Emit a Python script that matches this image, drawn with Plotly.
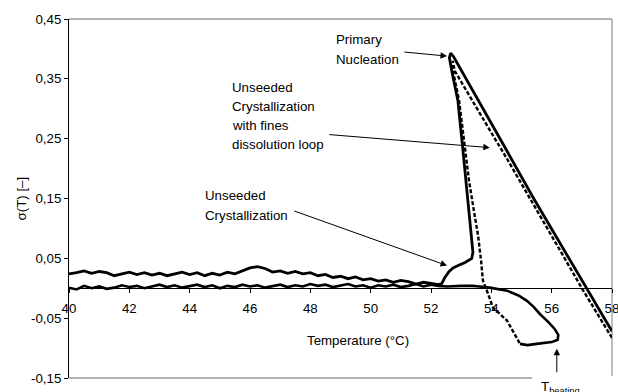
import plotly.graph_objects as go

# ---------------- data ----------------
# Series 1: unseeded crystallization (solid)
s1_T = [58.0, 57.5, 57.17, 56.5, 56.0, 55.38, 54.5, 54.0, 53.5, 53.0, 52.75, 52.65,
        52.61, 52.7, 52.89, 53.06, 53.22, 53.32, 53.39, 53.35, 53.13, 52.9, 52.73, 52.6,
        52.46, 52.36, 52.25,
        52.0, 51.75, 51.5, 51.25, 51.0, 50.75, 50.5, 50.25, 50.0, 49.75, 49.5, 49.25,
        49.0, 48.75, 48.5, 48.25, 48.0, 47.75, 47.5, 47.25, 47.0, 46.75, 46.5, 46.25,
        46.0, 45.75, 45.5, 45.25, 45.0, 44.75, 44.5, 44.25, 44.0, 43.75, 43.5, 43.25,
        43.0, 42.75, 42.5, 42.25, 42.0, 41.75, 41.5, 41.25, 41.0, 40.75, 40.5, 40.25, 40.0]
s1_sigma = [-0.072, -0.029, 0.0, 0.057, 0.099, 0.152, 0.231, 0.276, 0.320, 0.366, 0.387, 0.393,
            0.385, 0.360, 0.314, 0.230, 0.147, 0.096, 0.060, 0.050, 0.043, 0.038, 0.034, 0.028,
            0.018, 0.008, 0.006,
            0.008, 0.010, 0.007, 0.011, 0.013, 0.010, 0.014, 0.012, 0.016, 0.014, 0.019, 0.016,
            0.020, 0.018, 0.023, 0.021, 0.026, 0.024, 0.028, 0.025, 0.029, 0.027, 0.033, 0.036,
            0.034, 0.029, 0.024, 0.027, 0.022, 0.025, 0.021, 0.026, 0.023, 0.027, 0.024, 0.021,
            0.025, 0.022, 0.026, 0.023, 0.027, 0.024, 0.021, 0.026, 0.028, 0.025, 0.029, 0.026, 0.024]

# Series 2: unseeded crystallization with fines dissolution loop
# fast part (drawn dashed): cooling ramp, primary nucleation, drop, heating into loop
s2a_T = [58.0, 57.5, 57.0, 56.5, 56.0, 55.28, 54.5, 54.0, 53.5, 53.0, 52.79, 52.72,
         52.70, 52.93, 53.13, 53.26, 53.42, 53.56, 53.66, 53.72, 53.89, 54.05, 54.52, 54.95]
s2a_sigma = [-0.083, -0.042, 0.0, 0.044, 0.088, 0.151, 0.218, 0.260, 0.302, 0.345, 0.363, 0.380,
             0.370, 0.314, 0.230, 0.180, 0.130, 0.088, 0.046, 0.013, -0.009, -0.032, -0.054, -0.093]
# slow part (dense): loop bottom, T_heating, cooling back, baseline
s2b_T = [54.95, 55.2, 55.5, 55.8, 56.0, 56.2, 56.22, 56.1, 55.9, 55.61, 55.4, 55.18, 54.9,
         54.52, 54.2, 53.95, 53.6, 53.39, 53.0, 52.53,
         52.25, 52.0, 51.75, 51.5, 51.25, 51.0, 50.75, 50.5, 50.25, 50.0, 49.75, 49.5, 49.25,
         49.0, 48.75, 48.5, 48.25, 48.0, 47.75, 47.5, 47.25, 47.0, 46.75, 46.5, 46.25,
         46.0, 45.75, 45.5, 45.25, 45.0, 44.75, 44.5, 44.25, 44.0, 43.75, 43.5, 43.25,
         43.0, 42.75, 42.5, 42.25, 42.0, 41.75, 41.5, 41.25, 41.0, 40.75, 40.5, 40.25, 40.0]
s2b_sigma = [-0.093, -0.095, -0.093, -0.091, -0.090, -0.086, -0.078, -0.068, -0.057, -0.043, -0.031, -0.021, -0.012,
             -0.004, -0.001, 0.001, 0.003, 0.004, 0.004, 0.003,
             0.004, 0.006, 0.003, 0.007, 0.004, 0.002, 0.006, 0.003, 0.005, 0.001, 0.005, 0.003, 0.007,
             0.004, 0.002, 0.006, 0.004, 0.007, 0.003, 0.005, 0.002, 0.006, 0.004, 0.001, 0.005,
             0.003, 0.006, 0.002, 0.004, 0.000, 0.005, 0.002, 0.006, 0.003, 0.001, 0.005, 0.002,
             0.006, 0.003, 0.000, 0.004, 0.002, 0.005, 0.001, -0.001, 0.003, 0.000, 0.004, -0.002, 0.001]

x_ticks = [40, 42, 44, 46, 48, 50, 52, 54, 56, 58]
y_ticks = [-0.15, -0.05, 0.05, 0.15, 0.25, 0.35, 0.45]
y_ticktext = ["-0,15", "-0,05", "0,05", "0,15", "0,25", "0,35", "0,45"]

FONT = "Liberation Sans, Arial, sans-serif"
FS = 13.3

fig = go.Figure()
fig.add_trace(go.Scatter(x=s2b_T, y=s2b_sigma, mode="lines",
                         line=dict(color="black", width=2.6), showlegend=False))
fig.add_trace(go.Scatter(x=s2a_T, y=s2a_sigma, mode="lines",
                         line=dict(color="black", width=2.4, dash="4px,2px"), showlegend=False))
fig.add_trace(go.Scatter(x=s1_T, y=s1_sigma, mode="lines",
                         line=dict(color="black", width=2.8), showlegend=False))

fig.update_layout(
    width=618, height=392,
    margin=dict(l=69, r=6, t=19, b=14, autoexpand=False),
    paper_bgcolor="white", plot_bgcolor="white",
    font=dict(family=FONT, size=FS, color="black"),
    xaxis=dict(range=[40, 58], anchor="free", position=0.25, automargin=False,
               showline=True, linecolor="black", linewidth=1,
               ticks="outside", ticklen=4, tickcolor="black", tickwidth=1,
               tickvals=x_ticks, ticktext=[str(v) for v in x_ticks],
               showgrid=False, zeroline=False, ticklabelstandoff=4,
               ticklabeloverflow="allow"),
    yaxis=dict(range=[-0.15, 0.45], showline=True, linecolor="black", linewidth=1,
               automargin=False,
               ticks="outside", ticklen=4, tickcolor="black", tickwidth=1,
               tickvals=y_ticks, ticktext=y_ticktext,
               showgrid=False, zeroline=False),
)

# frame (top, right, partial bottom)
gray = "#9a9a9a"
fig.add_shape(type="line", xref="paper", yref="paper", x0=0, x1=1, y0=1, y1=1,
              line=dict(color=gray, width=1.3), layer="below")
fig.add_shape(type="line", xref="paper", yref="paper", x0=1, x1=1, y0=0.006, y1=1,
              line=dict(color=gray, width=1.3), layer="below")
fig.add_shape(type="line", xref="paper", yref="paper", x0=0, x1=0.853, y0=0, y1=0,
              line=dict(color=gray, width=1.3), layer="below")

def text_lines(lines, x, y_px_list):
    for t, ypx in zip(lines, y_px_list):
        fig.add_annotation(text=t, x=x, y=(287.6 - ypx) / 597.0, xref="x", yref="y",
                           showarrow=False, xanchor="left", yanchor="middle",
                           font=dict(size=FS, family=FONT, color="black"))

text_lines(["Primary", "Nucleation"], 48.78, [39, 59])
text_lines(["Unseeded", "Crystallization", "with fines", "dissolution loop"], 45.34, [87, 106, 125, 144])
text_lines(["Unseeded", "Crystallization"], 44.44, [195, 215])

def arrow(x_tail, y_tail, x_head, y_head):
    fig.add_annotation(text="", x=x_head, y=y_head, ax=x_tail, ay=y_tail,
                       xref="x", yref="y", axref="x", ayref="y",
                       showarrow=True, arrowhead=2, arrowsize=1.3, arrowwidth=1,
                       arrowcolor="black", standoff=0, startstandoff=0)

arrow(51.07, 0.395, 52.53, 0.388)
arrow(48.58, 0.257, 53.95, 0.235)
arrow(47.42, 0.130, 52.53, 0.038)
arrow(56.17, -0.143, 56.17, -0.101)

fig.add_annotation(text="T<sub>heating</sub>", x=56.3, y=0.003, xref="x", yref="paper",
                   showarrow=False, xanchor="center", yanchor="top",
                   font=dict(size=FS, family=FONT, color="black"))

fig.add_annotation(text="Temperature (°C)", x=49.58, y=-0.088, xref="x", yref="y",
                   showarrow=False, xanchor="center", yanchor="middle",
                   font=dict(size=FS, family=FONT, color="black"))
fig.add_annotation(text="σ(T) [–]", x=-0.0866, y=0.15, xref="paper", yref="y",
                   showarrow=False, textangle=-90, xanchor="center", yanchor="middle",
                   font=dict(size=FS, family=FONT, color="black"))

fig.write_html("out.html")
